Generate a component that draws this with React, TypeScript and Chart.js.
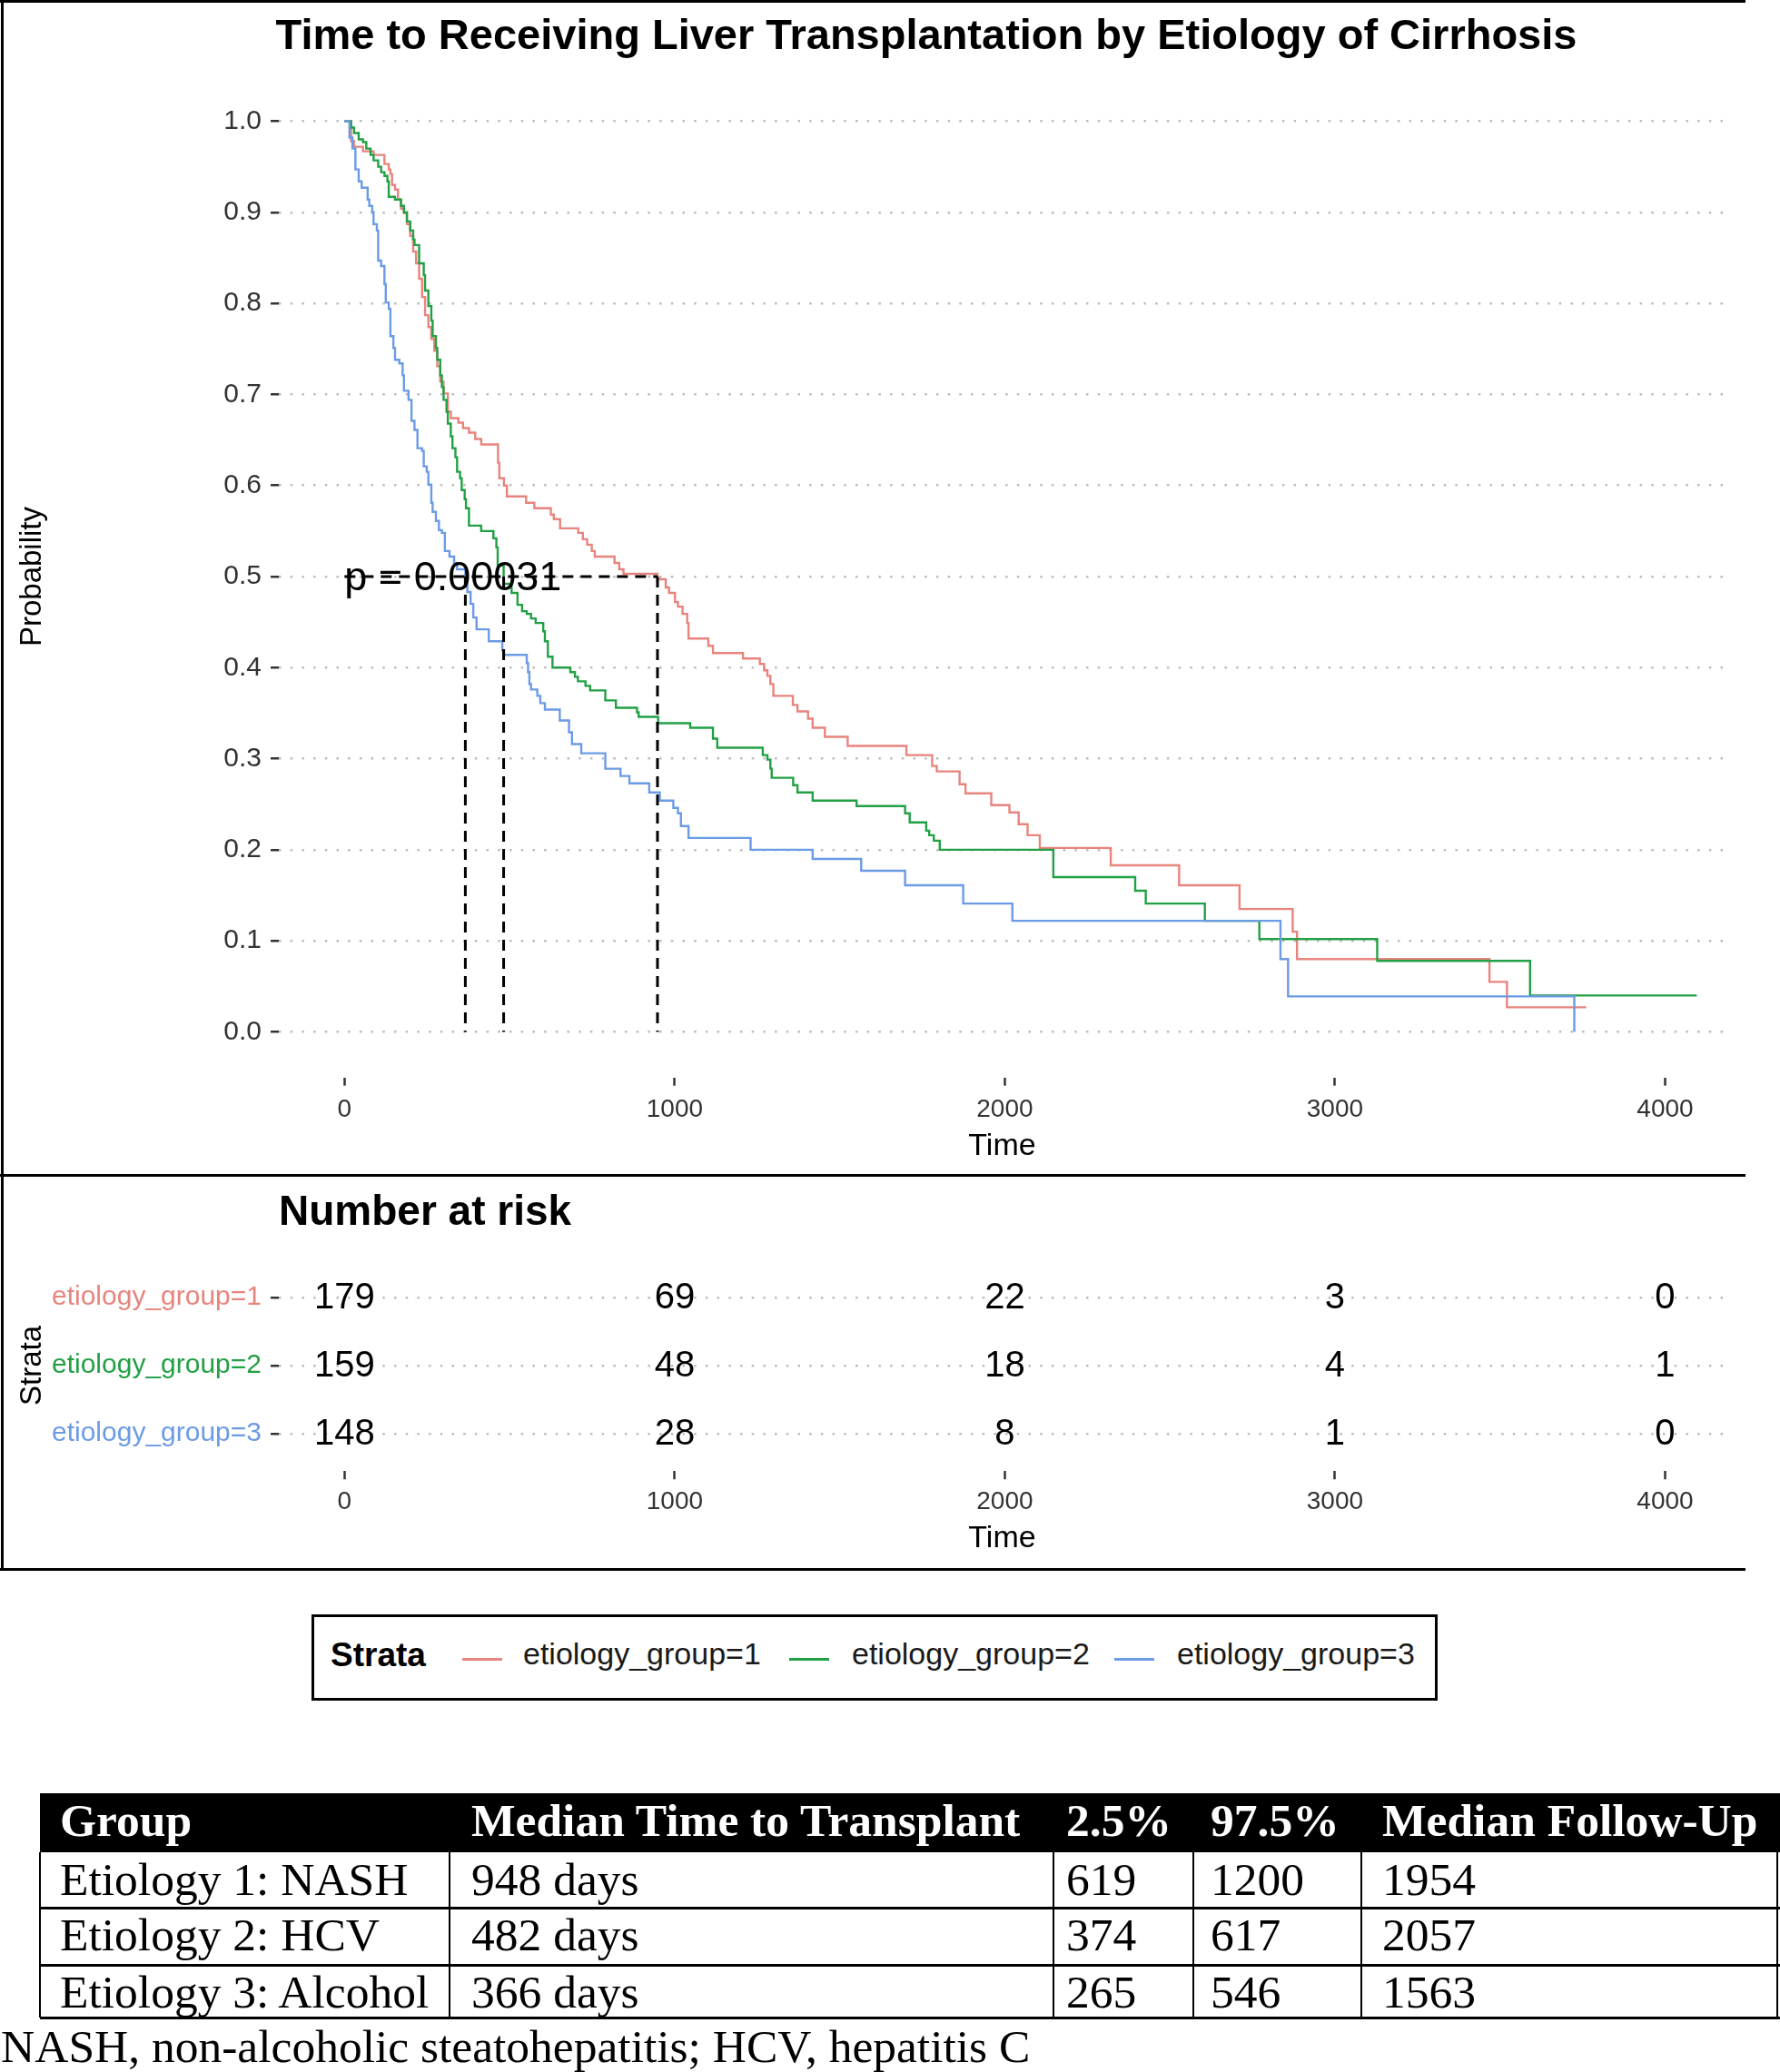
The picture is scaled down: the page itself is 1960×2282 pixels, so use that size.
import React, { useEffect, useRef } from 'react';
import { Chart, registerables } from 'chart.js';

Chart.register(...registerables);

const SANS = "'Liberation Sans', Arial, Helvetica, sans-serif";
const SERIF = "'Liberation Serif', 'Times New Roman', serif";

// ---------- data ----------
const titleText = 'Time to Receiving Liver Transplantation by Etiology of Cirrhosis';
const pValueText = 'p = 0.00031';
const strataLabels = ['etiology_group=1', 'etiology_group=2', 'etiology_group=3'];
const COLORS = ['#E8847E', '#22A045', '#6C9BE5'];

const xTicks = [0, 1000, 2000, 3000, 4000];
const yTicks = [0, 0.1, 0.2, 0.3, 0.4, 0.5, 0.6, 0.7, 0.8, 0.9, 1.0];

const g1Time = [0,20,29,56,88,121,134,139,144,153,162,171,180,189,199,208,217,226,235,244,254,263,272,281,290,300,313,322,345,359,377,396,414,465,469,483,492,550,575,625,634,653,708,722,735,749,758,818,832,845,948,973,983,1001,1010,1024,1038,1042,1102,1116,1207,1258,1271,1281,1290,1299,1358,1372,1404,1418,1455,1524,1702,1780,1794,1863,1881,1959,2014,2042,2069,2106,2321,2528,2711,2872,2885,3468,3521,3761];
const g1Surv = [1,0.978,0.972,0.967,0.963,0.953,0.947,0.942,0.930,0.925,0.914,0.904,0.899,0.887,0.874,0.857,0.844,0.827,0.807,0.787,0.774,0.761,0.748,0.731,0.714,0.701,0.681,0.674,0.669,0.663,0.658,0.651,0.645,0.625,0.608,0.600,0.588,0.581,0.575,0.568,0.563,0.553,0.548,0.541,0.535,0.528,0.522,0.515,0.508,0.503,0.497,0.488,0.482,0.472,0.467,0.459,0.449,0.432,0.424,0.416,0.410,0.404,0.397,0.391,0.382,0.369,0.359,0.352,0.344,0.334,0.324,0.314,0.304,0.292,0.286,0.272,0.262,0.249,0.241,0.228,0.216,0.202,0.183,0.161,0.135,0.110,0.080,0.055,0.027,0.027];

const g2Time = [0,20,29,43,56,66,79,88,102,111,121,130,134,153,171,180,189,199,208,212,226,240,244,254,263,267,277,281,290,295,300,309,313,322,327,336,341,350,355,364,368,377,414,451,460,464,482,506,524,538,552,565,579,602,607,616,630,684,698,707,730,744,790,822,886,891,950,1047,1116,1129,1267,1281,1290,1294,1359,1372,1418,1551,1698,1712,1762,1771,1785,1803,2147,2395,2427,2606,2771,3128,3591,4096];
const g2Surv = [1,0.993,0.987,0.980,0.977,0.970,0.963,0.957,0.950,0.944,0.940,0.934,0.917,0.914,0.907,0.900,0.890,0.880,0.870,0.864,0.844,0.831,0.814,0.797,0.781,0.764,0.751,0.738,0.721,0.708,0.694,0.681,0.668,0.654,0.641,0.631,0.615,0.608,0.595,0.585,0.575,0.556,0.550,0.542,0.532,0.512,0.492,0.482,0.469,0.462,0.459,0.454,0.449,0.440,0.429,0.412,0.400,0.395,0.390,0.385,0.380,0.375,0.364,0.356,0.351,0.346,0.339,0.334,0.322,0.312,0.304,0.299,0.289,0.279,0.271,0.263,0.254,0.248,0.240,0.230,0.221,0.216,0.210,0.200,0.170,0.155,0.141,0.122,0.102,0.078,0.040,0.040];

const g3Time = [0,15,24,33,43,52,70,75,84,88,98,102,111,121,125,134,139,148,153,166,176,180,194,203,212,221,235,240,249,254,263,267,277,286,295,304,318,332,341,366,372,382,390,400,437,478,483,552,556,560,565,584,593,607,652,680,689,717,790,836,863,923,955,996,1010,1019,1042,1230,1418,1565,1698,1874,2023,2835,2858,3725];
const g3Surv = [1,0.982,0.970,0.947,0.934,0.927,0.914,0.907,0.900,0.887,0.880,0.847,0.841,0.821,0.801,0.794,0.764,0.751,0.738,0.734,0.721,0.704,0.694,0.671,0.661,0.641,0.638,0.621,0.615,0.601,0.581,0.571,0.561,0.551,0.548,0.528,0.522,0.515,0.508,0.495,0.483,0.470,0.455,0.442,0.429,0.419,0.414,0.405,0.395,0.382,0.376,0.369,0.361,0.354,0.342,0.329,0.316,0.306,0.289,0.281,0.273,0.263,0.254,0.246,0.240,0.226,0.213,0.200,0.190,0.177,0.161,0.141,0.122,0.080,0.039,0];

const medianTimes = [948, 482, 366];
const medianLevel = 0.5;

const riskTimes = [0, 1000, 2000, 3000, 4000];
const risk1 = [179, 69, 22, 3, 0];
const risk2 = [159, 48, 18, 4, 1];
const risk3 = [148, 28, 8, 1, 0];

const tableHeader = ['Group', 'Median Time to Transplant', '2.5%', '97.5%', 'Median Follow-Up'];
const tableGroup = ['Etiology 1: NASH', 'Etiology 2: HCV', 'Etiology 3: Alcohol'];
const tableMedian = ['948 days', '482 days', '366 days'];
const tableLow = ['619', '374', '265'];
const tableHigh = ['1200', '617', '546'];
const tableFollowUp = ['1954', '2057', '1563'];
const footnote = 'NASH, non-alcoholic steatohepatitis; HCV, hepatitis C';

// ---------- layout constants ----------
const KM_H = 1293;
const RISK_TOP = 1296;
const RISK_H = 431;

function tickFix(values: number[]) {
  return (scale: any) => {
    scale.ticks = values.map((v) => ({ value: v }));
  };
}

function KMChart() {
  const ref = useRef<HTMLCanvasElement>(null);
  useEffect(() => {
    if (!ref.current) return;
    const dash = { borderColor: '#000', borderWidth: 3, borderDash: [12, 8], pointRadius: 0, order: 0, fill: false };
    const datasets: any[] = [];
    datasets.push({ label: 'median', data: [{ x: 0, y: medianLevel }, { x: Math.max(...medianTimes), y: medianLevel }], ...dash });
    medianTimes.forEach((m) => datasets.push({ label: 'median', data: [{ x: m, y: medianLevel }, { x: m, y: 0 }], ...dash }));
    const curves = [[g1Time, g1Surv], [g2Time, g2Surv], [g3Time, g3Surv]];
    curves.forEach(([t, s], i) => {
      datasets.push({
        label: strataLabels[i],
        data: t.map((v, j) => ({ x: v, y: s[j] })),
        borderColor: COLORS[i],
        borderWidth: 2.4,
        pointRadius: 0,
        stepped: 'before',
        fill: false,
        order: 3 - i,
      });
    });

    const overlay = {
      id: 'overlayKM',
      afterDatasetsDraw(chart: any) {
        const { ctx, scales } = chart;
        ctx.save();
        ctx.fillStyle = '#000';
        ctx.font = `45px ${SANS}`;
        ctx.textAlign = 'left';
        ctx.textBaseline = 'middle';
        ctx.fillText(pValueText, scales.x.getPixelForValue(0), scales.y.getPixelForValue(medianLevel) + 3);
        ctx.font = `bold 47px ${SANS}`;
        ctx.textAlign = 'center';
        ctx.fillText(titleText, 1020, 41);
        ctx.restore();
      },
    };

    const chart = new Chart(ref.current, {
      type: 'line',
      data: { datasets },
      options: {
        animation: false,
        responsive: false,
        maintainAspectRatio: false,
        layout: { padding: { top: 83.35, right: 60, left: 0, bottom: 0 }, autoPadding: false } as any,
        plugins: { legend: { display: false }, tooltip: { enabled: false }, title: { display: false } },
        scales: {
          x: {
            type: 'linear',
            min: -199,
            max: 4183,
            afterBuildTicks: tickFix(xTicks),
            afterFit: (s: any) => { s.height = KM_H - 1186.65; },
            grid: { display: true, drawOnChartArea: false, drawTicks: true, tickLength: 9, tickWidth: 2.5, tickColor: '#333' },
            border: { display: false },
            ticks: { font: { size: 28, family: SANS }, color: '#333', padding: 9.5, maxRotation: 0, autoSkip: false, callback: (v: any) => String(v) },
            title: { display: true, text: 'Time', font: { size: 34, family: SANS }, color: '#000', padding: { top: 0, bottom: 9.6 } },
          },
          y: {
            type: 'linear',
            min: -0.05,
            max: 1.05,
            afterBuildTicks: tickFix(yTicks),
            afterFit: (s: any) => { s.width = 307; },
            grid: { display: true, color: '#BDBDBD', lineWidth: 2.5, borderDash: [2.5, 10.2], drawTicks: true, tickLength: 9, tickWidth: 2.5, tickColor: '#333', tickBorderDash: [] } as any,
            border: { display: false, dash: [2.5, 10.2] },
            ticks: { font: { size: 30, family: SANS }, color: '#333', padding: 10, autoSkip: false, callback: (v: any) => Number(v).toFixed(1) },
            title: { display: true, text: 'Probability', font: { size: 33, family: SANS }, color: '#000', padding: { top: 16, bottom: 0 } },
          },
        },
      } as any,
      plugins: [overlay],
    });
    return () => chart.destroy();
  }, []);
  return <canvas ref={ref} width={1960} height={KM_H} style={{ position: 'absolute', left: 0, top: 0, width: 1960, height: KM_H }} />;
}

function RiskChart() {
  const ref = useRef<HTMLCanvasElement>(null);
  useEffect(() => {
    if (!ref.current) return;
    const rows = [risk1, risk2, risk3];
    const datasets = rows.map((r, i) => ({
      label: strataLabels[i],
      data: riskTimes.map((t) => ({ x: t, y: i + 1 })),
      counts: r,
      pointRadius: 0,
      showLine: false,
    }));
    const overlay = {
      id: 'overlayRisk',
      afterDatasetsDraw(chart: any) {
        const { ctx } = chart;
        ctx.save();
        ctx.fillStyle = '#000';
        ctx.font = `40px ${SANS}`;
        ctx.textAlign = 'center';
        ctx.textBaseline = 'middle';
        chart.data.datasets.forEach((ds: any, i: number) => {
          const meta = chart.getDatasetMeta(i);
          meta.data.forEach((el: any, j: number) => {
            ctx.fillText(String(ds.counts[j]), el.x, el.y + 1);
          });
        });
        ctx.font = `bold 46px ${SANS}`;
        ctx.textAlign = 'left';
        ctx.fillText('Number at risk', 307, 40);
        ctx.restore();
      },
    };
    const chart = new Chart(ref.current, {
      type: 'scatter',
      data: { datasets } as any,
      options: {
        animation: false,
        responsive: false,
        maintainAspectRatio: false,
        layout: { padding: { top: 91.75, right: 60, left: 0, bottom: 0 }, autoPadding: false } as any,
        plugins: { legend: { display: false }, tooltip: { enabled: false }, title: { display: false } },
        scales: {
          x: {
            type: 'linear',
            min: -199,
            max: 4183,
            afterBuildTicks: tickFix(xTicks),
            afterFit: (s: any) => { s.height = RISK_H - 324.25; },
            grid: { display: true, drawOnChartArea: false, drawTicks: true, tickLength: 9, tickWidth: 2.5, tickColor: '#333' },
            border: { display: false },
            ticks: { font: { size: 28, family: SANS }, color: '#333', padding: 8, maxRotation: 0, autoSkip: false, callback: (v: any) => String(v) },
            title: { display: true, text: 'Time', font: { size: 34, family: SANS }, color: '#000', padding: { top: 0, bottom: 11.6 } },
          },
          y: {
            type: 'linear',
            reverse: true,
            min: 0.45,
            max: 3.55,
            afterBuildTicks: tickFix([1, 2, 3]),
            afterFit: (s: any) => { s.width = 307; },
            grid: { display: true, color: '#BDBDBD', lineWidth: 2.5, borderDash: [2.5, 10.2], drawTicks: true, tickLength: 9, tickWidth: 2.5, tickColor: '#333', tickBorderDash: [] } as any,
            border: { display: false, dash: [2.5, 10.2] },
            ticks: {
              font: { size: 30, family: SANS },
              color: (c: any) => COLORS[Math.round(c.tick ? c.tick.value : c.index + 1) - 1] || '#333',
              padding: 10,
              autoSkip: false,
              callback: (v: any) => strataLabels[Math.round(Number(v)) - 1],
            },
            title: { display: true, text: 'Strata', font: { size: 33, family: SANS }, color: '#000', padding: { top: 16, bottom: 0 } },
          },
        },
      } as any,
      plugins: [overlay],
    });
    return () => chart.destroy();
  }, []);
  return <canvas ref={ref} width={1960} height={RISK_H} style={{ position: 'absolute', left: 0, top: RISK_TOP, width: 1960, height: RISK_H }} />;
}

const abs = (l: number, t: number, w: number, h: number, extra: any = {}) => ({ position: 'absolute' as const, left: l, top: t, width: w, height: h, ...extra });

function Legend() {
  const lineX = [509, 869, 1227];
  const textX = [576, 938, 1296];
  const cy = 1827;
  return (
    <>
      <div style={abs(343, 1778, 1240, 95, { border: '3px solid #000', boxSizing: 'border-box' })} />
      <div style={{ position: 'absolute', left: 364, top: cy - 25, height: 50, lineHeight: '50px', font: `bold 37px ${SANS}`, color: '#000' }}>Strata</div>
      {strataLabels.map((s, i) => (
        <React.Fragment key={s}>
          <div style={abs(lineX[i], cy - 1, 44, 2.5, { background: COLORS[i] })} />
          <div style={{ position: 'absolute', left: textX[i], top: cy - 25, height: 50, lineHeight: '50px', font: `34px ${SANS}`, color: '#1a1a1a', whiteSpace: 'nowrap' }}>{s}</div>
        </React.Fragment>
      ))}
    </>
  );
}

function SummaryTable() {
  const colX = [44, 495, 1160, 1314, 1499, 1960];
  const padL = [22, 24, 14, 19, 23];
  const rowY = [2040, 2101, 2164, 2222];
  const rows = tableGroup.map((g, i) => [g, tableMedian[i], tableLow[i], tableHigh[i], tableFollowUp[i]]);
  const cells: any[] = [];
  tableHeader.forEach((h, c) => {
    cells.push(
      <div key={'h' + c} style={{ position: 'absolute', left: colX[c] + padL[c], top: 1975, height: 65, lineHeight: '65px', font: `bold 51.5px ${SERIF}`, color: '#fff', whiteSpace: 'nowrap' }}>{h}</div>
    );
  });
  rows.forEach((r, ri) => {
    r.forEach((v, c) => {
      const top = rowY[ri];
      const h = rowY[ri + 1] - rowY[ri];
      cells.push(
        <div key={`r${ri}c${c}`} style={{ position: 'absolute', left: colX[c] + padL[c], top, height: h, lineHeight: `${h}px`, font: `51.5px ${SERIF}`, color: '#000', whiteSpace: 'nowrap' }}>{v}</div>
      );
    });
  });
  const lines: any[] = [];
  rowY.slice(1).forEach((y, i) => lines.push(<div key={'hl' + i} style={abs(44, y - 1, 1916, 2.5, { background: '#000' })} />));
  [44, 495, 1160, 1314, 1499, 1957].forEach((x, i) => lines.push(<div key={'vl' + i} style={abs(x - 1, 2040, 2, 2222 - 2040, { background: '#000' })} />));
  return (
    <>
      <div style={abs(44, 1975, 1916, 65, { background: '#000' })} />
      {lines}
      {cells}
      <div style={{ position: 'absolute', left: 1, top: 2224, height: 60, lineHeight: '60px', font: `51.5px ${SERIF}`, color: '#000', whiteSpace: 'nowrap' }}>{footnote}</div>
    </>
  );
}

export default function App() {
  return (
    <div style={{ position: 'absolute', left: 0, top: 0, width: 1960, height: 2282, overflow: 'hidden', background: '#fff' }}>
      <KMChart />
      <RiskChart />
      {/* panel borders */}
      <div style={abs(0, 0, 1922, 3, { background: '#000' })} />
      <div style={abs(1, 0, 3, 1730, { background: '#000' })} />
      <div style={abs(0, 1293, 1922, 3, { background: '#000' })} />
      <div style={abs(0, 1727, 1922, 3, { background: '#000' })} />
      <Legend />
      <SummaryTable />
    </div>
  );
}
